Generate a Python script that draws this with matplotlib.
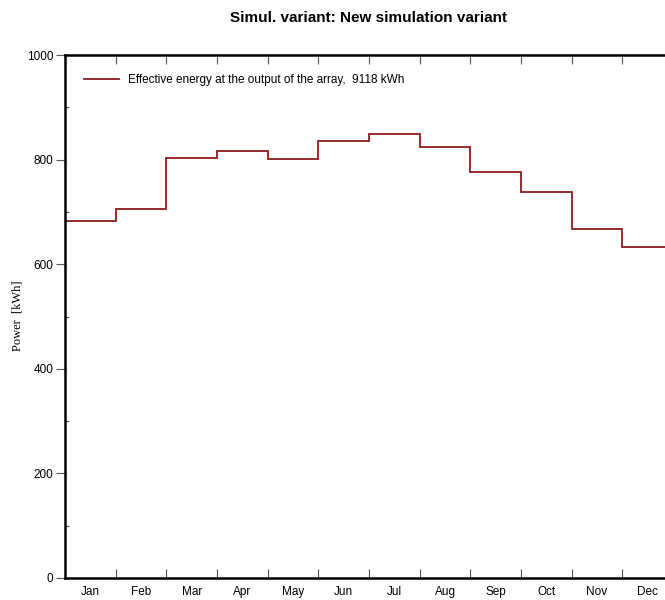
import matplotlib
matplotlib.use("Agg")
import matplotlib.pyplot as plt
import numpy as np
from matplotlib.ticker import FixedLocator, MultipleLocator, NullFormatter

MONTHS = ["Jan", "Feb", "Mar", "Apr", "May", "Jun",
          "Jul", "Aug", "Sep", "Oct", "Nov", "Dec"]
ENERGY = [683, 705, 804, 816, 801, 836, 849, 824, 776, 738, 668, 632]
LABEL = "Effective energy at the output of the array,  9118 kWh"
TITLE = "Simul. variant: New simulation variant"

RED = "#8E1B1B"

plt.rcParams.update({
    "font.family": ["Liberation Sans", "DejaVu Sans"],
    "font.size": 8.5,
})

fig = plt.figure(figsize=(6.65, 6.0), dpi=100)
ax = fig.add_axes([65 / 665, 22 / 600, 608 / 665, 523 / 600])

edges = np.arange(len(ENERGY) + 1)
ax.stairs(ENERGY, edges, color=RED, lw=1.3, label=LABEL, baseline=None)

ax.set_xlim(0, 12)
ax.set_ylim(0, 1000)

# month boundaries as ticks, month names centred in between
ax.xaxis.set_major_locator(FixedLocator(edges[1:-1]))
ax.xaxis.set_major_formatter(NullFormatter())
ax.xaxis.set_minor_locator(FixedLocator(edges[:-1] + 0.5))
ax.set_xticklabels(MONTHS, minor=True)
ax.tick_params(axis="x", which="major", direction="in", length=6.5,
               width=0.8, color="#555555", top=True)
ax.tick_params(axis="x", which="minor", length=0, pad=6, labelsize=8.5)

ax.yaxis.set_major_locator(MultipleLocator(200))
ax.yaxis.set_minor_locator(MultipleLocator(100))
ax.tick_params(axis="y", which="major", direction="out", length=6.5,
               width=0.8, color="#555555", labelsize=8.5, pad=2)
ax.tick_params(axis="y", which="minor", direction="in", length=3,
               width=0.8, color="#555555")

for s in ax.spines.values():
    s.set_linewidth(1.8)

fig.text(17 / 665, 1 - 316 / 600, "Power  [kWh]", rotation=90,
         ha="center", va="center", fontsize=9,
         family=["Liberation Serif", "DejaVu Serif"])
ax.set_title(TITLE, fontweight="bold", fontsize=11, pad=24)

ax.legend(loc="upper left", frameon=False, fontsize=8.5,
          handlelength=3.0, handletextpad=0.7,
          bbox_to_anchor=(0.008, 0.99), borderaxespad=0.8)

fig.savefig("out.png", dpi=100)
